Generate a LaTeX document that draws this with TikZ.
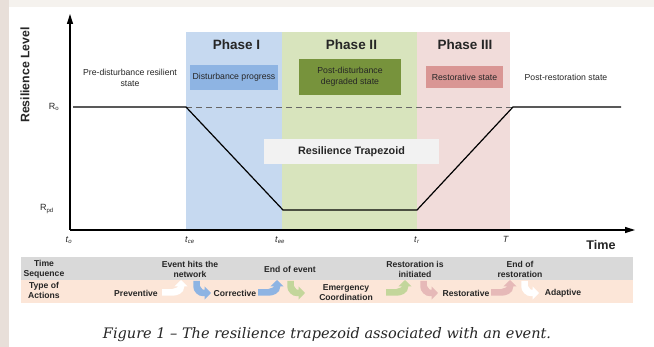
\documentclass[tikz,border=0pt]{standalone}
\usepackage{fontspec}
\setmainfont{Liberation Sans}
\newfontfamily\CapFont{DejaVu Serif}
\usepackage{tikz}
\usetikzlibrary{positioning,arrows.meta}
\definecolor{FrameTop}{HTML}{F5F2EE}
\definecolor{FrameLeft}{HTML}{E8DFD9}
\definecolor{PhaseOneBg}{HTML}{C6D9F0}
\definecolor{PhaseTwoBg}{HTML}{D8E4BD}
\definecolor{PhaseThreeBg}{HTML}{F1DCDA}
\definecolor{DistBox}{HTML}{8EB4E3}
\definecolor{DegrBox}{HTML}{77933C}
\definecolor{RestBox}{HTML}{D99694}
\definecolor{TrapBox}{HTML}{F2F2F2}
\definecolor{RowGray}{HTML}{D9D9D9}
\definecolor{RowPeach}{HTML}{FCE6D8}
\definecolor{ArrBlue}{HTML}{8EB4E3}
\definecolor{ArrGreen}{HTML}{C3D69B}
\definecolor{ArrPink}{HTML}{E6B9B8}
\definecolor{TextDark}{HTML}{262626}
\newcommand{\PhaseFont}{\fontsize{13.5}{16}\selectfont\bfseries}
\newcommand{\SmallFont}{\fontsize{8.7}{10.5}\selectfont}
\newcommand{\TabFont}{\fontsize{8.6}{10}\selectfont\bfseries}
\newcommand{\TickFont}{\fontsize{9}{10}\selectfont}
% bent arrows of the action row
\newcommand{\UpArr}[2]{\draw[bendarr, draw=#2, fill=#2] (#1,292.5) -- ++(10,0) to[out=0,in=-90] ++(9,-6) -- ++(0,-6.5);}
\newcommand{\DownArr}[2]{\draw[bendarr, draw=#2, fill=#2] (#1+3.5,281) -- ++(0,5) to[out=-90,in=180] ++(7,7) -- ++(7.5,0);}

\begin{document}
\begin{tikzpicture}[x=1pt, y=-1pt, node distance=4pt,
    phasetitle/.style={font=\PhaseFont, text=TextDark, anchor=base},
    statebox/.style={font=\SmallFont, text=TextDark, align=center, inner sep=0pt},
    freetext/.style={font=\SmallFont, text=TextDark, align=center},
    tabtext/.style={font=\TabFont, text=TextDark, align=center, inner sep=0pt},
    ticklbl/.style={font=\TickFont, text=TextDark, inner sep=0pt},
    curve/.style={line width=1.2pt, line join=miter},
    axisline/.style={line width=1.4pt, -{Triangle[width=6pt,length=10pt]}},
    bendarr/.style={line width=6.5pt, -{Triangle[width=13pt,length=6.5pt]}}]
    \useasboundingbox (0,0) rectangle (654,347);
    \fill[FrameTop] (0,0) rectangle (654,347);
    \fill[FrameLeft] (0,0) rectangle (9,347);
    \fill[white] (9,7) rectangle (654,347);
    % phases
    \fill[PhaseOneBg] (186,32) rectangle (282,230);
    \fill[PhaseTwoBg] (282,32) rectangle (417,230);
    \fill[PhaseThreeBg] (417,32) rectangle (510,230);
    \node[phasetitle] (PhaseI) at (236.5,50) {Phase I};
    \node[phasetitle] (PhaseII) at (351.5,50) {Phase II};
    \node[phasetitle] (PhaseIII) at (465,50) {Phase III};
    \node[statebox, fill=DistBox, minimum width=88pt, minimum height=25pt] (Disturb) at (234,77.5) {Disturbance progress};
    \node[statebox, fill=DegrBox, minimum width=102pt, minimum height=36pt] (Degraded) at (350,77) {Post-disturbance\\degraded state};
    \node[statebox, fill=RestBox, minimum width=77pt, minimum height=22pt] (Restor) at (464.5,77) {Restorative state};
    \node[freetext] (PreState) at (130,78) {Pre-disturbance resilient\\state};
    \node[freetext] (PostState) at (566,77) {Post-restoration state};
    \node[statebox, fill=TrapBox, font=\fontsize{10.8}{12}\selectfont\bfseries, minimum width=175pt, minimum height=25pt] (Trap) at (351.5,151.5) {Resilience Trapezoid};
    % axes
    \coordinate (Orig) at (70,230);
    \coordinate (YTop) at (70,14);
    \coordinate (XEnd) at (635,230);
    \draw[axisline] (Orig) -- (YTop);
    \draw[axisline] (Orig) -- (XEnd);
    \node[rotate=90, font=\fontsize{12.3}{14}\selectfont\bfseries, text=TextDark] (YLbl) at (25,75) {Resilience Level};
    \node[font=\fontsize{12.6}{14}\selectfont\bfseries, text=TextDark] (XLbl) at (601,245) {Time};
    % trapezoid curve
    \coordinate (Pre) at (73,107);
    \coordinate (Ce) at (186,107);
    \coordinate (Ee) at (283,210);
    \coordinate (Tr) at (417,210);
    \coordinate (Tt) at (513,107);
    \coordinate (Post) at (621,107);
    \draw[dashed, dash pattern=on 6pt off 4pt, line width=0.8pt, black!60] (Ce) -- (Tt);
    \draw[curve] (Pre) -- (Ce) -- (Ee) -- (Tr) -- (Tt) -- (Post);
    \node[ticklbl] (Ro) at (54,107) {R\textsubscript{o}};
    \node[ticklbl] (Rpd) at (47,209) {R\textsubscript{pd}};
    \node[ticklbl] (To) at (69,240) {\textit{t}\textsubscript{\textit{o}}};
    \node[ticklbl] (Tce) at (190,240) {\textit{t}\textsubscript{\textit{ce}}};
    \node[ticklbl] (Tee) at (280,240) {\textit{t}\textsubscript{\textit{ee}}};
    \node[ticklbl] (TrLbl) at (417,240) {\textit{t}\textsubscript{\textit{r}}};
    \node[ticklbl] (TT) at (506,239) {\textit{T}};
    % table
    \fill[RowGray] (21,257) rectangle (633,280);
    \fill[RowPeach] (21,280) rectangle (633,303);
    \node[tabtext] (TimeSeq) at (44,269) {Time\\Sequence};
    \node[tabtext] (TypeAct) at (44,290.5) {Type of\\Actions};
    \node[tabtext] (EvHits) at (190,269.5) {Event hits the\\network};
    \node[tabtext] (EvEnd) at (290,269) {End of event};
    \node[tabtext] (RestInit) at (415,269) {Restoration is\\initiated};
    \node[tabtext] (RestEnd) at (520,269) {End of\\restoration};
    \node[tabtext] (Prev) at (136,293) {Preventive};
    \node[tabtext] (Corr) at (235,293) {Corrective};
    \node[tabtext] (Emerg) at (346,293) {Emergency\\Coordination};
    \node[tabtext] (Restv) at (466,293) {Restorative};
    \node[tabtext] (Adapt) at (563,293) {Adaptive};
    \UpArr{162}{white}
    \DownArr{193}{ArrBlue}
    \UpArr{258}{ArrBlue}
    \DownArr{287}{ArrGreen}
    \UpArr{386}{ArrGreen}
    \DownArr{420}{ArrPink}
    \UpArr{491}{ArrPink}
    \DownArr{521}{white}
    % caption
    \node[anchor=base, font=\CapFont\itshape\fontsize{14.5}{17}\selectfont, text=TextDark] (Caption) at (327,339) {Figure 1 – The resilience trapezoid associated with an event.};
\end{tikzpicture}
\end{document}
